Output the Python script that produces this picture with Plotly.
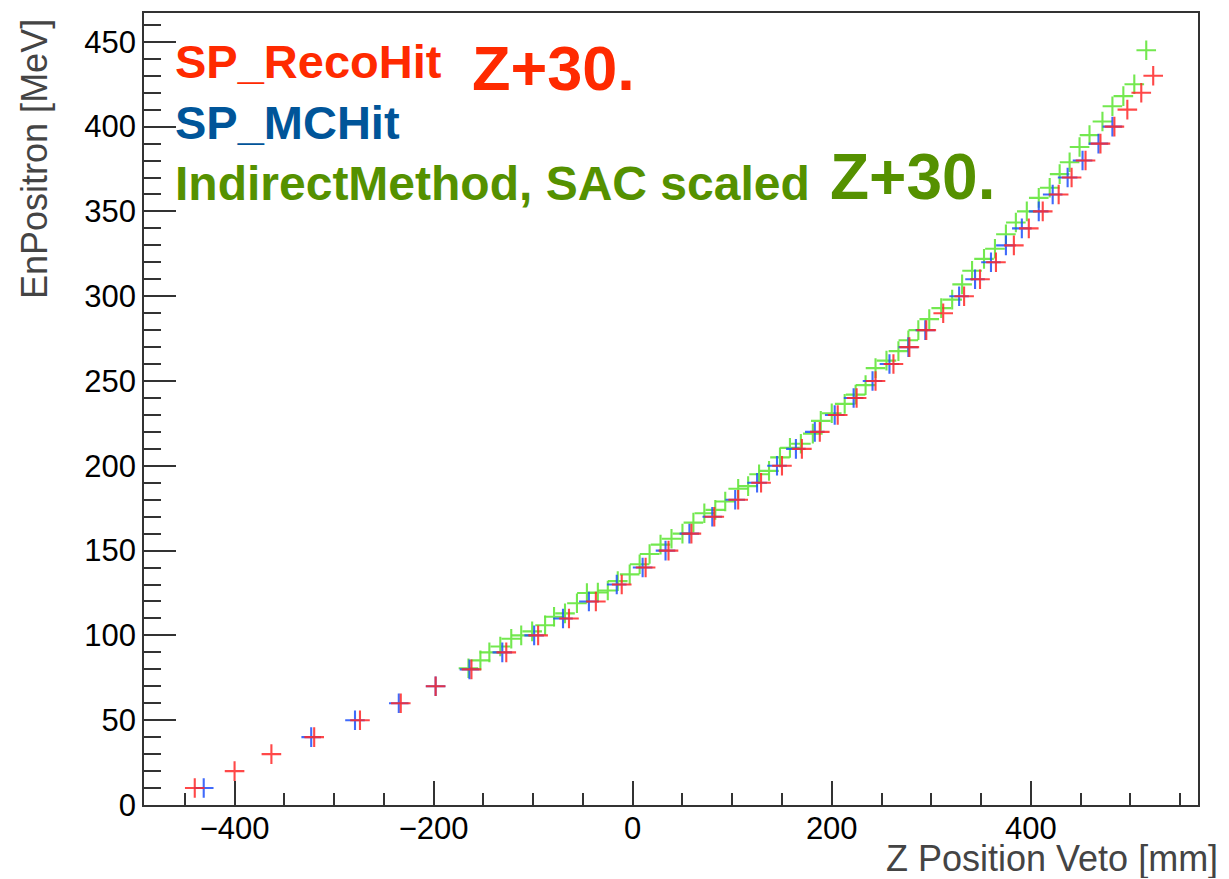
import plotly.graph_objects as go

# SP_RecoHit (Z+30) : energy levels and reconstructed veto Z positions
reco_energy = [10, 20, 30, 40, 50, 60, 70, 80, 90, 100, 110, 120, 130, 140, 150,
               160, 170, 180, 190, 200, 210, 220, 230, 240, 250, 260, 270, 280,
               290, 300, 310, 320, 330, 340, 350, 360, 370, 380, 390, 400, 410,
               420, 430]
reco_z = [-440, -400, -363, -320, -274, -233, -198, -162, -127, -95, -64, -37,
          -11, 13, 36, 59, 82, 106, 129, 150, 170, 188, 206, 225, 244, 262, 278,
          295, 312, 333, 349, 365, 383, 398, 412, 428, 441, 455, 470, 484, 497,
          511, 523]

# SP_MCHit
mc_energy = [10, 40, 50, 60, 70, 80, 90, 100, 110, 120, 130, 140, 150, 160, 170,
             180, 190, 200, 210, 220, 230, 240, 250, 260, 270, 280, 300, 310, 320,
             330, 340, 350, 360, 370, 380, 390, 400]
mc_z = [-431, -323, -279, -235, -198, -164, -131, -99, -70, -44, -16, 10, 33, 57,
        80, 103, 125, 145, 164, 183, 203, 222, 241, 258, 277, 294, 328, 344, 360,
        375, 391, 408, 422, 437, 452, 468, 482]

# IndirectMethod, SAC scaled (Z+30)
ind_z = [-165, -153, -144, -133, -122, -112, -101, -88, -79, -68, -56, -46, -35,
         -25, -15, -3, 7, 17, 28, 39, 50, 61, 72, 83, 93, 106, 116, 127, 137, 148,
         158, 169, 181, 189, 200, 213, 224, 234, 244, 255, 267, 277, 287, 298,
         310, 321, 331, 341, 353, 364, 375, 385, 396, 408, 419, 429, 439, 449,
         459, 472, 482, 493, 504, 516]
ind_energy = [80.6, 85.3, 90, 93.5, 98, 100, 102.4, 106, 111, 113, 119, 125,
              125.3, 126.5, 132, 136, 142, 148, 153.5, 157, 160, 166.5, 172, 174,
              179, 186.5, 188, 195, 197, 205, 210.6, 213, 219, 226.5, 231, 236.5,
              242, 247.6, 257.6, 262, 267.6, 274, 280, 286.5, 293, 298, 307, 315,
              322, 328, 336.5, 343.5, 350, 358, 364, 372, 379, 388, 395, 403, 412,
              418, 425, 445]

x_ticks = [-400, -200, 0, 200, 400]
y_ticks = [0, 50, 100, 150, 200, 250, 300, 350, 400, 450]

RED_MARK = "rgba(255,40,40,0.85)"
BLUE_MARK = "rgba(30,80,250,0.85)"
GREEN_MARK = "rgba(100,230,60,0.9)"


def cross_trace(xs, ys, color, name):
    return go.Scatter(
        x=xs, y=ys, mode="markers", name=name, showlegend=False,
        marker=dict(symbol="cross-thin", size=14,
                    line=dict(color=color, width=2.1)),
        hoverinfo="skip",
    )


fig = go.Figure()
fig.add_trace(cross_trace(ind_z, ind_energy, GREEN_MARK, "IndirectMethod"))
fig.add_trace(cross_trace(mc_z, mc_energy, BLUE_MARK, "SP_MCHit"))
fig.add_trace(cross_trace(reco_z, reco_energy, RED_MARK, "SP_RecoHit"))

FONT = "Liberation Sans, Arial, Helvetica, sans-serif"
AX_COLOR = "#333333"

fig.update_layout(
    width=1229, height=879,
    margin=dict(l=144, r=31, t=11, b=74),
    paper_bgcolor="white", plot_bgcolor="white",
    font=dict(family=FONT, color="black"),
    xaxis=dict(
        range=[-491, 568], tickvals=x_ticks,
        ticktext=["\u2212400", "\u2212200", "0", "200", "400"],
        ticks="inside", ticklen=24, tickwidth=1.6, tickcolor=AX_COLOR,
        minor=dict(ticks="inside", ticklen=12, tickwidth=1.6,
                   tickcolor=AX_COLOR, dtick=50, tick0=0, showgrid=False),
        showline=True, linecolor=AX_COLOR, linewidth=1.8, mirror=True,
        showgrid=False, zeroline=False,
        ticklabelstandoff=-5,
        tickfont=dict(size=31, color="black", family=FONT),
    ),
    yaxis=dict(
        range=[0, 467], tickvals=y_ticks,
        ticks="inside", ticklen=32, tickwidth=1.6, tickcolor=AX_COLOR,
        minor=dict(ticks="inside", ticklen=17, tickwidth=1.6,
                   tickcolor=AX_COLOR, dtick=10, tick0=0, showgrid=False),
        showline=True, linecolor=AX_COLOR, linewidth=1.8, mirror=True,
        showgrid=False, zeroline=False,
        tickfont=dict(size=31, color="black", family=FONT),
    ),
)

# axis titles (ROOT style: aligned to the far end of each axis)
fig.add_annotation(
    text="EnPositron [MeV]", textangle=-90, showarrow=False,
    xref="paper", yref="paper", x=-0.1034, y=0.995,
    xanchor="center", yanchor="top",
    font=dict(size=36, color="#444444", family=FONT),
)
fig.add_annotation(
    text="Z Position Veto [mm]", showarrow=False,
    xref="paper", yref="paper", x=1.0209, y=(805 - 858) / 794,
    xanchor="right", yanchor="middle", height=40,
    font=dict(size=36, color="#444444", family=FONT),
)


def px_x(px):
    return (px - 144) / 1054


def px_y(py):
    return (805 - py) / 794


labels = [
    ("<b>SP_RecoHit</b>", 173, 60, 47, "#ff2a00"),
    ("<b>Z+30.</b>", 470, 66, 63, "#ff2a00"),
    ("<b>SP_MCHit</b>", 173, 121, 47, "#005599"),
    ("<b>IndirectMethod, SAC scaled</b>", 173, 182, 48, "#559100"),
    ("<b>Z+30.</b>", 828, 175, 64, "#559100"),
]
for text, lx, ly, size, color in labels:
    fig.add_annotation(
        text=text, showarrow=False, xref="paper", yref="paper",
        x=px_x(lx), y=px_y(ly), xanchor="left", yanchor="middle",
        font=dict(size=size, color=color, family=FONT),
    )

fig.write_html("out.html")
